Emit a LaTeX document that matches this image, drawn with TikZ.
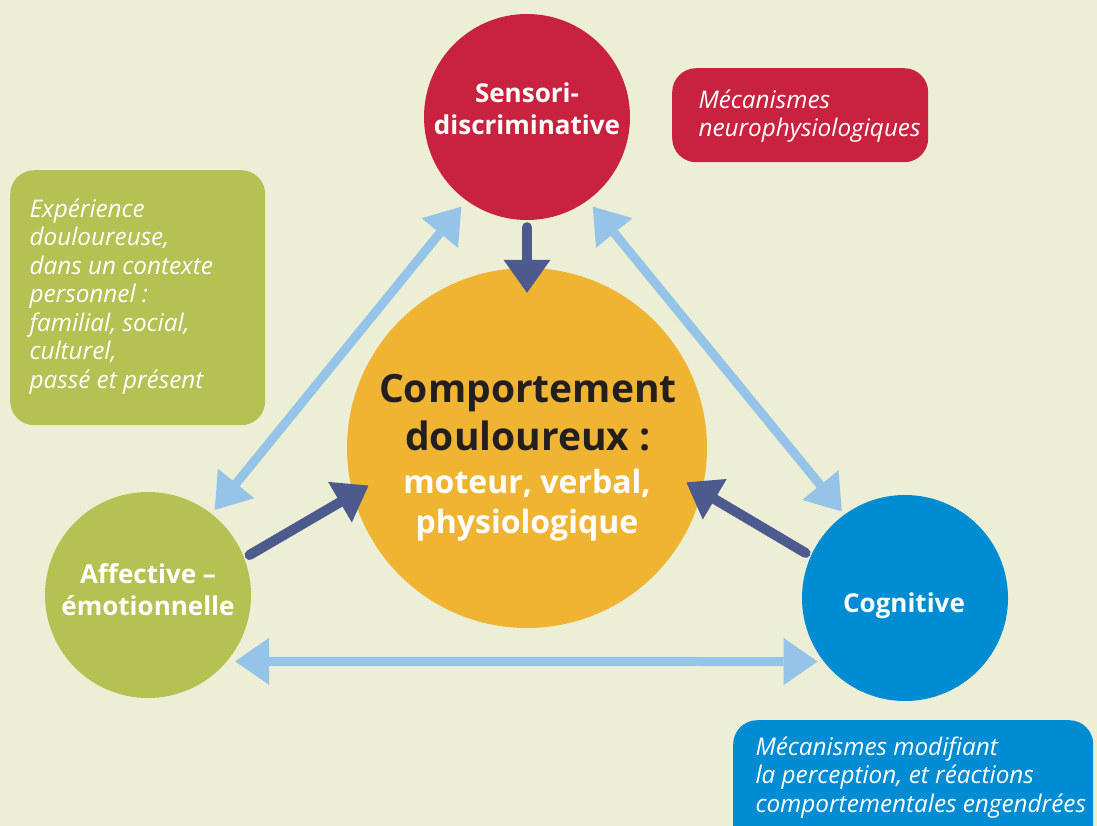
\documentclass[tikz,border=0pt]{standalone}
\usepackage{fontspec}
\setmainfont{Open Sans}
\usetikzlibrary{arrows.meta}

\definecolor{paper}{HTML}{ECEFD5}
\definecolor{sensred}{HTML}{C8223F}
\definecolor{comporange}{HTML}{F0B433}
\definecolor{affgreen}{HTML}{B5C152}
\definecolor{cogblue}{HTML}{008CD2}
\definecolor{feeddark}{HTML}{4C5A8E}
\definecolor{linkblue}{HTML}{95C4E8}
\definecolor{titleink}{HTML}{231F20}

\tikzset{
  pole/.style={circle,inner sep=0pt,minimum size=206pt},
  polelbl/.style={anchor=base,align=center,text=white,font=\bfseries\fontsize{26}{32}\selectfont},
  infobox/.style={rectangle,rounded corners=24pt,inner sep=0pt,anchor=north west},
  infolbl/.style={anchor=base west,align=left,text=white,font=\itshape\fontsize{24.3}{28.5}\selectfont},
  feed/.style={draw=feeddark,line width=10pt,line cap=round,-{Triangle[length=33pt,width=47pt,line width=0pt]}},
  link/.style={draw=linkblue,line width=9pt,{Triangle[length=34pt,width=47pt,line width=0pt]}-{Triangle[length=34pt,width=47pt,line width=0pt]}}
}

\begin{document}
\begin{tikzpicture}[x=1pt,y=-1pt]
  \useasboundingbox (0,0) rectangle (1097,826);
  \fill[paper] (0,0) rectangle (1097,826);

  % side notes
  \node[infobox,fill=sensred,minimum width=256pt,minimum height=94pt] (neuro) at (672,68) {};
  \node[infobox,fill=affgreen,minimum width=255pt,minimum height=255pt] (vecu) at (10,170) {};
  \node[infobox,fill=cogblue,minimum width=360pt,minimum height=140pt] (percep) at (733,720) {};

  % the four poles
  \node[pole,fill=sensred] (sens) at (527,117) {};
  \node[pole,fill=affgreen] (aff) at (148,595) {};
  \node[pole,fill=cogblue] (cog) at (905,598) {};
  \node[circle,inner sep=0pt,minimum size=360pt,fill=comporange] (comp) at (527,448) {};

  % two-way links between the outer poles
  \draw[link,shorten <=5pt,shorten >=8pt] (aff.52) -- (sens.234);
  \draw[link,shorten <=8pt,shorten >=4pt] (sens.306) -- (cog.126);
  \draw[link,shorten <=8pt,shorten >=6pt] (aff.-40) -- (cog.218);

  % everything feeds the behaviour
  \draw[feed,shorten <=7pt,shorten >=-25pt] (sens.south) -- (comp.north);
  \draw[feed,shorten <=6pt,shorten >=-18pt] (aff.21) -- (comp.195);
  \draw[feed,shorten <=6pt,shorten >=-18pt] (cog.156) -- (comp.-14);

  % labels (base = last line)
  \node[polelbl] (sens-lbl) at (527,135) {Sensori-\\discriminative};
  \node[polelbl] (aff-lbl) at (148,615) {Affective –\\émotionnelle};
  \node[polelbl] (cog-lbl) at (904,612) {Cognitive};
  \node[anchor=base,align=center,text=titleink,font=\bfseries\fontsize{39}{48}\selectfont] (comp-lbl) at (528,450) {Comportement\\douloureux~:};
  \node[anchor=base,align=center,text=white,font=\bfseries\fontsize{32}{40}\selectfont] (comp-sub) at (527,533) {moteur, verbal,\\physiologique};

  \node[infolbl] (neuro-txt) at (695,137) {Mécanismes\\neurophysiologiques};
  \node[infolbl] (vecu-txt) at (26,388) {Expérience\\douloureuse,\\dans un contexte\\personnel~:\\familial, social,\\culturel,\\passé et présent};
  \node[infolbl] (percep-txt) at (752,812) {Mécanismes modifiant\\la perception, et réactions\\comportementales~engendrées};
\end{tikzpicture}
\end{document}
